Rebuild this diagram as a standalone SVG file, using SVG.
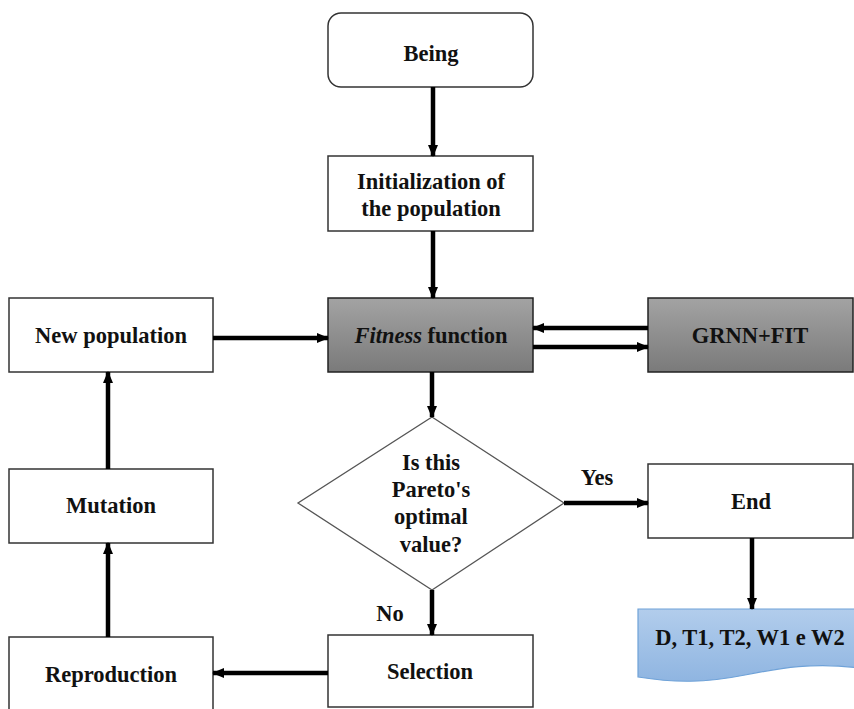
<svg xmlns="http://www.w3.org/2000/svg" width="854" height="709" viewBox="0 0 854 709">
<defs>
<linearGradient id="gray" x1="0" y1="0" x2="0" y2="1">
<stop offset="0" stop-color="#a3a3a3"/>
<stop offset="1" stop-color="#7a7a7a"/>
</linearGradient>
<linearGradient id="blue" x1="0" y1="0" x2="0" y2="1">
<stop offset="0" stop-color="#b2cdec"/>
<stop offset="1" stop-color="#8fb5e1"/>
</linearGradient>
<marker id="ah" markerUnits="userSpaceOnUse" markerWidth="12" markerHeight="12" viewBox="0 0 12 12" refX="11" refY="6" orient="auto">
<path d="M0,1 L12,6 L0,11 Z" fill="#000"/>
</marker>
</defs>
<style>
.box{fill:#fff;stroke:#333;stroke-width:1.5}
.gbox{fill:url(#gray);stroke:#222;stroke-width:1.5}
.t{font-family:"Liberation Serif","Times New Roman",serif;font-weight:bold;font-size:22.5px;fill:#111;text-anchor:middle}
.c{stroke:#000;stroke-width:4.5;fill:none;marker-end:url(#ah)}
</style>
<rect width="854" height="709" fill="#fff"/>
<g id="being">
<rect class="box" x="328" y="13" width="205" height="74" rx="13"/>
<text class="t" x="431" y="61">Being</text>
</g>
<g id="init">
<rect class="box" x="328" y="156" width="205" height="75"/>
<text class="t" x="431" y="189">Initialization of</text>
<text class="t" x="431" y="216">the population</text>
</g>
<g id="fitness">
<rect class="gbox" x="328" y="298" width="205" height="74"/>
<text class="t" x="431" y="343"><tspan font-style="italic">Fitness</tspan> function</text>
</g>
<g id="grnn">
<rect class="gbox" x="648" y="298" width="205" height="74"/>
<text class="t" x="750" y="343">GRNN+FIT</text>
</g>
<g id="newpop">
<rect class="box" x="9" y="298" width="204" height="74"/>
<text class="t" x="111" y="343">New population</text>
</g>
<g id="mutation">
<rect class="box" x="9" y="469" width="204" height="74"/>
<text class="t" x="111" y="513">Mutation</text>
</g>
<g id="reproduction">
<rect class="box" x="9" y="637" width="204" height="80"/>
<text class="t" x="111" y="682">Reproduction</text>
</g>
<g id="decision">
<polygon points="432,417 564,503 432,590 298,503" fill="#fff" stroke="#555" stroke-width="1.3"/>
<text class="t" x="431" y="470">Is this</text>
<text class="t" x="431" y="497">Pareto's</text>
<text class="t" x="431" y="524">optimal</text>
<text class="t" x="431" y="552">value?</text>
</g>
<g id="end">
<rect class="box" x="648" y="464" width="205" height="74"/>
<text class="t" x="751" y="509">End</text>
</g>
<g id="selection">
<rect class="box" x="328" y="635" width="205" height="72"/>
<text class="t" x="430" y="679">Selection</text>
</g>
<g id="output">
<path d="M638,609 H858 V668 C815,662 780,668 745,675 C705,683 675,683 638,677 Z" fill="url(#blue)" stroke="#6fa2d8" stroke-width="1.2"/>
<text class="t" x="750" y="645">D, T1, T2, W1 e W2</text>
</g>
<g id="connectors">
<line class="c" x1="433" y1="87" x2="433" y2="156"/>
<line class="c" x1="433" y1="231" x2="433" y2="298"/>
<line class="c" x1="213" y1="338" x2="328" y2="338"/>
<line class="c" x1="648" y1="328" x2="533" y2="328"/>
<line class="c" x1="533" y1="347" x2="648" y2="347"/>
<line class="c" x1="432" y1="372" x2="432" y2="417"/>
<line class="c" x1="564" y1="503" x2="648" y2="503"/>
<line class="c" x1="752" y1="538" x2="752" y2="609"/>
<line class="c" x1="432" y1="590" x2="432" y2="635"/>
<line class="c" x1="328" y1="673" x2="213" y2="673"/>
<line class="c" x1="108" y1="637" x2="108" y2="543"/>
<line class="c" x1="108" y1="469" x2="108" y2="372"/>
<text class="t" x="597" y="485">Yes</text>
<text class="t" x="390" y="621">No</text>
</g>
</svg>
